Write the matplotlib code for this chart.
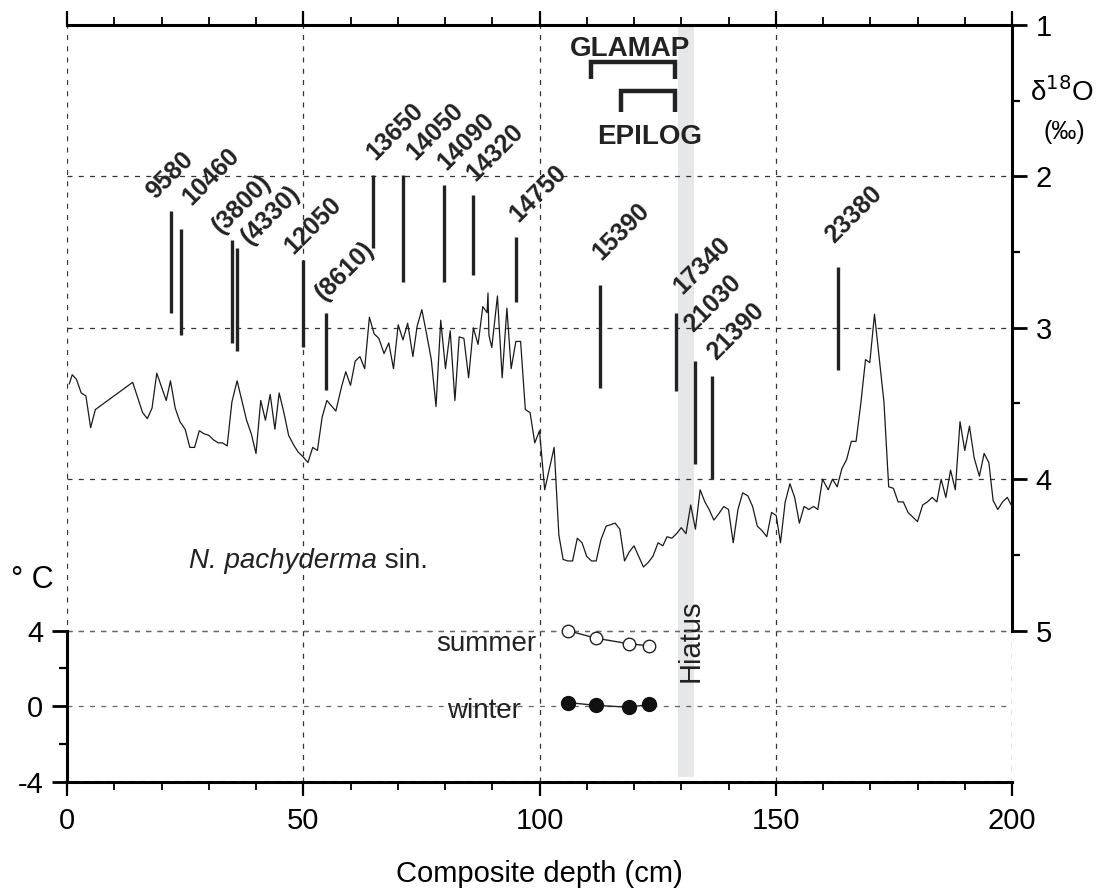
import matplotlib
matplotlib.use("Agg")
import matplotlib.pyplot as plt

plt.rcParams["font.family"] = ["Liberation Sans", "DejaVu Sans"]
plt.rcParams["axes.unicode_minus"] = False

# N. pachyderma sin. d18O record (composite depth in cm, permil)
depth = [0.5, 1.1, 2.0, 3.0, 4.0, 5.0, 6.0, 13.9, 16.0, 17.0, 18.0, 19.0, 21.0, 21.9,
         22.9, 23.9, 25.0, 26.0, 27.0, 28.0, 29.0, 30.0, 31.0, 32.0, 32.9, 33.9, 34.9,
         36.0, 37.0, 38.0, 39.0, 40.0, 41.0, 42.0, 43.0, 44.0, 44.9, 45.9, 46.9, 47.9,
         48.9, 49.9, 51.0, 52.0, 53.0, 54.0, 55.0, 56.9, 58.1, 59.0, 60.0, 61.0, 62.0,
         63.0, 64.0, 65.0, 66.0, 67.1, 68.1, 69.1, 70.1, 71.1, 72.1, 73.2, 74.1, 75.1,
         76.1, 77.1, 78.1, 79.1, 80.1, 81.1, 82.1, 83.0, 84.0, 85.0, 86.0, 87.0, 88.0,
         88.9, 89.1, 89.3, 89.9, 91.1, 92.1, 93.1, 94.0, 95.0, 96.0, 97.0, 98.0, 99.0,
         100.0, 101.1, 102.1, 103.1, 104.1, 105.0, 106.0, 107.0, 108.0, 109.0, 110.0,
         111.0, 112.0, 113.0, 114.1, 115.1, 116.0, 117.0, 118.0, 119.0, 120.0, 121.0,
         122.0, 123.0, 124.0, 125.1, 126.1, 127.0, 128.0, 129.0, 130.0, 131.0, 132.0,
         133.0, 134.0, 135.0, 135.9, 136.9, 137.9, 139.0, 140.0, 141.0, 142.0, 143.0,
         144.1, 145.1, 146.1, 147.1, 148.1, 149.1, 150.1, 151.0, 152.0, 153.0, 154.0,
         155.0, 156.0, 157.0, 158.0, 158.9, 159.9, 161.1, 162.0, 163.0, 164.0, 165.0,
         166.0, 167.0, 168.0, 169.0, 169.9, 170.9, 172.9, 173.9, 174.9, 175.9, 177.0,
         178.0, 179.0, 180.0, 181.1, 182.1, 183.1, 184.1, 185.0, 186.0, 187.0, 188.0,
         189.0, 190.0, 191.0, 192.0, 193.1, 194.1, 195.1, 196.0, 197.0, 198.0, 199.0,
         200.0]
d18o = [3.37, 3.31, 3.34, 3.43, 3.45, 3.66, 3.54, 3.36, 3.56, 3.60, 3.53, 3.30, 3.48, 3.35,
        3.53, 3.62, 3.67, 3.79, 3.79, 3.68, 3.70, 3.71, 3.74, 3.76, 3.76, 3.78, 3.49,
        3.35, 3.48, 3.61, 3.70, 3.83, 3.48, 3.61, 3.44, 3.67, 3.43, 3.56, 3.71, 3.77,
        3.82, 3.85, 3.89, 3.79, 3.81, 3.59, 3.48, 3.55, 3.39, 3.29, 3.38, 3.22, 3.19,
        3.27, 2.93, 3.04, 3.07, 3.17, 3.10, 3.27, 2.98, 3.08, 2.97, 3.19, 2.99, 2.88,
        3.04, 3.21, 3.52, 2.95, 3.27, 3.02, 3.48, 3.06, 3.07, 3.33, 3.00, 3.11, 2.86,
        2.90, 2.77, 3.05, 3.13, 2.79, 3.33, 2.87, 3.27, 3.09, 3.09, 3.54, 3.56, 3.76,
        3.68, 4.07, 3.93, 3.79, 4.37, 4.53, 4.54, 4.54, 4.39, 4.42, 4.51,
        4.54, 4.54, 4.40, 4.31, 4.30, 4.29, 4.33, 4.54, 4.48, 4.44, 4.51,
        4.58, 4.55, 4.51, 4.42, 4.44, 4.38, 4.39, 4.36, 4.32, 4.36, 4.17,
        4.33, 4.07, 4.15, 4.20, 4.27, 4.23, 4.18, 4.20, 4.42, 4.20, 4.09,
        4.11, 4.18, 4.31, 4.34, 4.38, 4.22, 4.24, 4.42, 4.15, 4.03, 4.12,
        4.29, 4.18, 4.20, 4.18, 4.20, 4.00, 4.07, 4.00, 4.05, 3.93, 3.87,
        3.75, 3.75, 3.50, 3.21, 3.23, 2.91, 3.49, 4.05, 4.06, 4.15, 4.15,
        4.22, 4.25, 4.28, 4.17, 4.15, 4.12, 4.15, 4.00, 4.12, 3.94, 4.07,
        3.62, 3.81, 3.65, 3.86, 3.98, 3.83, 3.89, 4.14, 4.20, 4.15, 4.12,
        4.18]

# AMS 14C ages and the depth span of each marker bar
age_labels = ["9580", "10460", "(3800)", "(4330)", "12050", "(8610)", "13650", "14050",
              "14090", "14320", "14750", "15390", "17340", "21030", "21390", "23380"]
age_depth = [22.0, 24.1, 35.0, 36.0, 49.9, 54.9, 64.8, 71.2, 79.8, 86.0, 95.1, 112.8,
             128.9, 132.9, 136.5, 163.1]
age_top = [2.23, 2.35, 2.42, 2.47, 2.55, 2.90, 1.99, 1.99, 2.06, 2.12, 2.40, 2.72,
           2.90, 3.22, 3.32, 2.60]
age_bottom = [2.90, 3.05, 3.10, 3.15, 3.13, 3.41, 2.47, 2.70, 2.70, 2.65, 2.83, 3.40,
              3.42, 3.90, 4.00, 3.28]

# transfer-function sea surface temperatures (deg C)
temp_depth = [106.0, 111.9, 119.0, 123.2]
temp_summer = [4.0, 3.6, 3.3, 3.2]
temp_winter = [0.2, 0.05, -0.05, 0.1]

hiatus = (129.3, 132.7)
glamap = (110.9, 128.7)
epilog = (117.3, 128.7)

# where each age label sits relative to the top of its bar (cm, permil)
label_offsets = [(-6.2, -0.05), (-0.6, -0.13), (-5.2, -0.01), (0.0, 0.01), (-4.8, -0.01),
                 (-3.3, -0.05), (-2.4, -0.07), (-0.3, -0.07), (-2.3, -0.07), (-2.4, -0.06),
                 (-2.4, -0.07), (-2.6, -0.14), (-1.4, -0.09), (-3.2, -0.16), (-1.9, -0.08),
                 (-3.5, -0.13)]

W, H = 1096, 891
fig = plt.figure(figsize=(W / 100, H / 100), dpi=100)
ax = fig.add_axes([67 / W, 1 - 782 / H, (1012 - 67) / W, (782 - 25) / H])
# temperature scale shares the lower part of the panel
ax2 = ax.twinx()

ax.set_xlim(0, 200)
ax.set_ylim(6, 1)
ax.set_axisbelow(True)

dash = (0, (4, 5))
ax.set_xticks(range(0, 201, 50))
ax.set_xticks(range(0, 201, 10), minor=True)
ax.xaxis.set_ticks_position("both")
ax.tick_params(axis="x", which="major", direction="out", length=10, width=1.6,
               labelsize=21, pad=8, top=True, labeltop=False)
ax.tick_params(axis="x", which="minor", direction="out", length=5.5, width=1.3, top=True)
ax.yaxis.tick_right()
ax.yaxis.set_label_position("right")
ax.set_yticks([1, 2, 3, 4, 5])
ax.set_yticks([1.5, 2.5, 3.5, 4.5], minor=True)
ax.tick_params(axis="y", which="both", left=False, labelleft=False, right=True,
               labelright=True)
ax.tick_params(axis="y", which="major", direction="out", length=11, width=2,
               labelsize=21, pad=6)
ax.tick_params(axis="y", which="minor", direction="out", length=6, width=1.6)
ax.grid(axis="x", which="major", linestyle=dash, color="#333333", lw=0.9)
ax.grid(axis="y", which="major", linestyle=dash, color="#333333", lw=0.9)

ax.spines["left"].set_visible(False)
ax.spines["right"].set_bounds(1, 5)
for side in ["top", "bottom", "right"]:
    ax.spines[side].set_linewidth(2.2)

ax.axvspan(*hiatus, ymin=0.006, color="#e6e7e9", lw=0, zorder=0.2)

ax.plot(depth, d18o, color="#1a1a1a", lw=0.9, zorder=3)
ax.vlines(age_depth, age_top, age_bottom, color="#222222", lw=2.4, zorder=3)
for lbl, x, y, (dx, dy) in zip(age_labels, age_depth, age_top, label_offsets):
    ax.text(x + dx, y + dy, lbl, rotation=45, ha="left", va="bottom",
            fontsize=18, fontweight="bold", color="#222222")

for (x0, x1), y0, y1 in [(glamap, 1.244, 1.356), (epilog, 1.436, 1.574)]:
    ax.plot([x0, x0, x1, x1], [y1, y0, y0, y1], color="#222222", lw=3.2,
            solid_joinstyle="miter", solid_capstyle="butt")
ax.text(119.2, 1.16, "GLAMAP", ha="center", va="center", fontsize=20,
        fontweight="bold", color="#222222")
ax.text(123.4, 1.74, "EPILOG", ha="center", va="center", fontsize=20,
        fontweight="bold", color="#222222")
ax.text(132.0, 5.07, "Hiatus", rotation=90, ha="center", va="center", fontsize=21,
        color="#222222")
species = ax.text(25.9, 4.625, "N. pachyderma", ha="left", va="bottom", fontsize=20,
                  style="italic", color="#222222")
ax.annotate(" sin.", xy=(1, 0), xycoords=species, ha="left", va="bottom",
            fontsize=20, color="#222222")
ax.set_xlabel("Composite depth (cm)", fontsize=21, labelpad=18)

ax2.set_ylim(-4, 36)
ax2.yaxis.tick_left()
ax2.set_yticks([-4, 0, 4])
ax2.set_yticks([-2, 2], minor=True)
ax2.tick_params(axis="y", which="both", right=False, labelright=False, left=True,
                labelleft=True)
ax2.tick_params(axis="y", which="major", direction="out", length=11, width=2,
                labelsize=21, pad=6)
ax2.tick_params(axis="y", which="minor", direction="out", length=6, width=1.6)
ax2.grid(axis="y", which="major", linestyle=dash, color="#666666", lw=0.9)
for side in ["top", "bottom", "right"]:
    ax2.spines[side].set_visible(False)
ax2.spines["left"].set_visible(True)
ax2.spines["left"].set_bounds(-4, 4)
ax2.spines["left"].set_linewidth(2.2)

ax2.plot(temp_depth, temp_summer, "o-", color="#222222", lw=1, ms=9,
         mfc="white", mec="#222222", mew=1)
ax2.plot(temp_depth, temp_winter, "o-", color="#222222", lw=1, ms=10,
         mfc="#111111", mec="#111111")
ax2.text(99.3, 2.9, "summer", ha="right", va="baseline", fontsize=20, color="#222222")
ax2.text(96.1, -0.63, "winter", ha="right", va="baseline", fontsize=20, color="#222222")

fig.text(1062 / W, 1 - 92 / H, r"δ$^{18}$O", ha="center", va="center", fontsize=20)
fig.text(1064 / W, 1 - 132 / H, "(‰)", ha="center", va="center", fontsize=18)
fig.text(11 / W, 1 - 580 / H, "° C", ha="left", va="center", fontsize=22)

fig.savefig("out.png", dpi=100)
